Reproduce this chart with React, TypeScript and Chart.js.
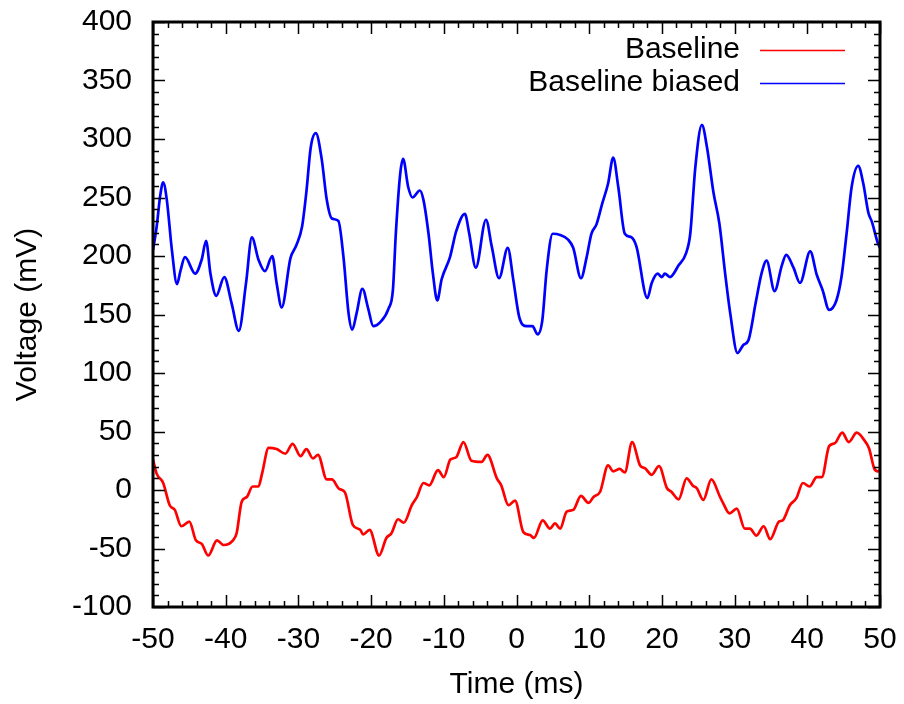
import React, { useEffect, useRef } from "react";
import { Chart, registerables } from "chart.js";

Chart.register(...registerables);

const seriesLabels = ["Baseline", "Baseline biased"];
const seriesColors = ["#ff0000", "#0000ff"];

const xTickValues = [-50, -40, -30, -20, -10, 0, 10, 20, 30, 40, 50];
const yTickValues = [-100, -50, 0, 50, 100, 150, 200, 250, 300, 350, 400];

const redTime = [
  -50, -49.5, -48.6, -47.7, -47.0, -46.1, -45.0, -44.1, -43.3, -42.4, -41.2, -40.3, -39.0, -38.5,
  -37.8, -37.1, -36.3, -35.5, -35.0, -34.1, -33.0, -31.8, -30.8, -29.7, -28.9, -28.0, -27.3, -26.1,
  -25.4, -24.4, -23.6, -22.5, -21.5, -21.1, -20.2, -18.9, -17.9, -17.2, -16.3, -15.5, -14.4, -13.7,
  -12.8, -12.0, -10.8, -10.0, -9.1, -8.3, -7.3, -6.2, -4.8, -4.0, -2.7, -2.1, -1.1, -0.2, 0.94, 1.86,
  2.4, 3.6, 4.6, 5.3, 6.0, 6.9, 7.8, 8.87, 9.9, 10.6, 11.5, 12.6, 13.3, 14.2, 14.9, 15.9, 17.0, 17.7,
  18.6, 19.6, 20.7, 21.3, 22.3, 23.4, 24.3, 24.8, 25.7, 26.8, 28.0, 28.4, 29.3, 30.3, 31.4, 32.1, 33.0,
  34.0, 34.9, 36.1, 36.6, 37.6, 38.5, 39.4, 40.3, 41.3, 42.0, 43.0, 43.8, 44.8, 45.7, 46.8, 47.9, 48.5,
  49.2, 49.7, 50,
];
const redVoltage = [
  26, 14, 6, -13, -17, -31, -27, -43, -46, -56, -43, -47, -43, -37,
  -10, -6, 3, 3, 14, 36, 35, 31, 39.5, 29, 35, 27, 30, 9,
  9, 1, -2, -30, -34, -38, -34, -56, -41, -37, -25, -28, -13, -6,
  6, 4, 17, 11, 26, 28, 41, 25, 24, 30, 10, 4, -13, -9, -36, -38.5,
  -41, -26, -33, -28.5, -33, -18.5, -17, -5, -11, -6, -1.5, 21, 16, 18, 15, 41, 21, 18.5,
  13, 20.5, 1.5, -1.5, -8, 10, 3.5, 1.5, -8.5, 9, -6, -11, -20, -16, -33, -33, -39,
  -31, -42, -27, -26, -13, -7, 6, 3, 11, 11, 37.5, 40, 49, 41, 49, 42, 35.5,
  18.5, 16, 17,
];

const blueTime = [
  -50, -49.5, -49.0, -48.6, -48.1, -47.4, -46.7, -46.2, -45.6, -44.2, -43.3, -42.7, -42.1, -41.3,
  -40.2, -39.2, -38.2, -37.2, -36.4, -35.5, -34.6, -33.6, -33.0, -32.3, -31.1, -30.3, -29.5, -28.9,
  -28.3, -27.6, -26.8, -26.1, -25.4, -24.5, -23.8, -23.1, -22.6, -22.0, -21.2, -20.4, -19.7, -18.8,
  -17.6, -17.0, -16.6, -16.0, -15.6, -14.9, -14.3, -13.3, -12.8, -12.1, -11.5, -10.9, -10.3, -9.15,
  -8.3, -7.1, -6.5, -5.6, -4.2, -3.4, -2.4, -1.2, -0.45, 0.37, 1.4, 2.2, 2.9, 3.55, 4.15, 4.97, 6.0,
  7.1, 7.8, 8.87, 9.65, 10.3, 11.0, 11.8, 12.6, 13.3, 14.0, 14.9, 15.8, 16.5, 18.0, 18.6, 19.4, 20.0,
  20.4, 21.1, 22.3, 23.3, 23.9, 24.6, 25.5, 26.2, 27.1, 27.9, 28.7, 29.4, 30.4, 31.2, 31.9, 32.9, 33.7,
  34.4, 35.5, 36.5, 37.1, 38.1, 39.0, 40.4, 41.3, 42.1, 43.0, 44.0, 44.7, 45.4, 46.1, 47.0, 47.7, 48.4,
  48.9, 49.7, 50,
];
const blueVoltage = [
  205, 225, 252, 263, 248, 205, 176, 188, 199, 185, 197, 213, 185, 166,
  182, 160, 136, 177, 216, 197, 187, 200, 177, 156, 198, 209, 225, 255,
  293, 305, 283, 248, 232, 230, 199, 151, 137, 151, 172, 155, 140, 143,
  155, 171, 219, 270, 283, 259, 250, 256, 248, 219, 185, 162, 180, 199,
  221, 236, 219, 190, 231, 208, 181, 207, 180, 148, 140, 140, 133, 145, 188, 219, 218,
  214, 207, 181, 199, 219, 227, 245, 262, 284, 259, 219, 216, 208, 164, 177, 185, 182,
  185, 182, 192, 202, 219, 276, 312, 293, 254, 228, 185, 151, 117, 124, 128, 160, 185,
  196, 170, 192, 201, 190, 177, 204, 184, 171, 154, 162, 182, 219, 259, 277, 262, 237,
  229, 211, 207,
];

const FONT = '"Liberation Sans", Arial, Helvetica, sans-serif';
const FS = 30;

const framePlugin = {
  id: "gnuFrame",
  afterDraw(chart: any) {
    const { ctx, chartArea: a, scales } = chart;
    const xs = scales.x;
    const ys = scales.y;
    ctx.save();
    ctx.strokeStyle = "#000";
    ctx.lineWidth = 1.5;
    ctx.beginPath();
    for (let v = -50; v <= 50; v += 2) {
      const px = Math.round(xs.getPixelForValue(v)) + 0.5;
      const len = v % 10 === 0 ? 12 : 6;
      ctx.moveTo(px, a.bottom);
      ctx.lineTo(px, a.bottom - len);
      ctx.moveTo(px, a.top);
      ctx.lineTo(px, a.top + len);
    }
    for (let v = -100; v <= 400; v += 10) {
      const py = Math.round(ys.getPixelForValue(v)) + 0.5;
      const len = v % 50 === 0 ? 12 : 6;
      ctx.moveTo(a.left, py);
      ctx.lineTo(a.left + len, py);
      ctx.moveTo(a.right, py);
      ctx.lineTo(a.right - len, py);
    }
    ctx.stroke();
    ctx.lineWidth = 3;
    ctx.strokeRect(a.left, a.top, a.right - a.left, a.bottom - a.top);

    // legend
    ctx.font = `${FS}px ${FONT}`;
    ctx.textAlign = "right";
    ctx.textBaseline = "middle";
    chart.data.datasets.forEach((ds: any, i: number) => {
      const y = a.top + 28 + i * 33;
      ctx.fillStyle = "#000";
      ctx.fillText(ds.label, a.right - 140, y);
      ctx.strokeStyle = ds.borderColor;
      ctx.lineWidth = 1.5;
      ctx.beginPath();
      ctx.moveTo(a.right - 120, y + 0.5);
      ctx.lineTo(a.right - 35, y + 0.5);
      ctx.stroke();
    });
    ctx.restore();
  },
};

export default function App() {
  const ref = useRef<HTMLCanvasElement | null>(null);
  useEffect(() => {
    document.body.style.margin = "0";
    const canvas = ref.current!;
    const chart = new Chart(canvas, {
      type: "line",
      data: {
        datasets: [
          {
            label: seriesLabels[0],
            data: redTime.map((t, i) => ({ x: t, y: redVoltage[i] })),
            borderColor: seriesColors[0],
            borderWidth: 2.7,
            pointRadius: 0,
            cubicInterpolationMode: "monotone",
            fill: false,
          },
          {
            label: seriesLabels[1],
            data: blueTime.map((t, i) => ({ x: t, y: blueVoltage[i] })),
            borderColor: seriesColors[1],
            borderWidth: 2.7,
            pointRadius: 0,
            cubicInterpolationMode: "monotone",
            fill: false,
          },
        ],
      },
      options: {
        animation: false,
        responsive: false,
        maintainAspectRatio: false,
        layout: { padding: { top: 22, right: 24, bottom: 0, left: 0 } },
        plugins: { legend: { display: false }, tooltip: { enabled: false } },
        scales: {
          x: {
            type: "linear",
            min: -50,
            max: 50,
            afterBuildTicks: (s: any) => {
              s.ticks = xTickValues.map((v) => ({ value: v }));
            },
            afterFit: (s: any) => {
              s.height = 97;
              s.paddingLeft = 0;
              s.paddingRight = 0;
            },
            grid: { display: false, drawTicks: false },
            border: { display: false },
            ticks: {
              color: "#000",
              font: { family: FONT, size: FS },
              padding: 15,
              maxRotation: 0,
              autoSkip: false,
            },
            title: {
              display: true,
              text: "Time (ms)",
              color: "#000",
              font: { family: FONT, size: FS },
              padding: { top: 0, bottom: 1 },
            },
          },
          y: {
            type: "linear",
            min: -100,
            max: 400,
            afterBuildTicks: (s: any) => {
              s.ticks = yTickValues.map((v) => ({ value: v }));
            },
            afterFit: (s: any) => {
              s.width = 153;
              s.paddingTop = 0;
              s.paddingBottom = 0;
            },
            grid: { display: false, drawTicks: false },
            border: { display: false },
            ticks: {
              color: "#000",
              font: { family: FONT, size: FS },
              padding: 21,
              autoSkip: false,
            },
            title: {
              display: true,
              text: "Voltage (mV)",
              color: "#000",
              font: { family: FONT, size: FS },
              padding: { top: 10, bottom: 0 },
            },
          },
        },
      },
      plugins: [framePlugin],
    } as any);
    return () => chart.destroy();
  }, []);
  return (
    <div style={{ position: "absolute", left: 0, top: 0, width: 904, height: 704, background: "#fff" }}>
      <canvas ref={ref} width={904} height={704} style={{ display: "block" }} />
    </div>
  );
}
